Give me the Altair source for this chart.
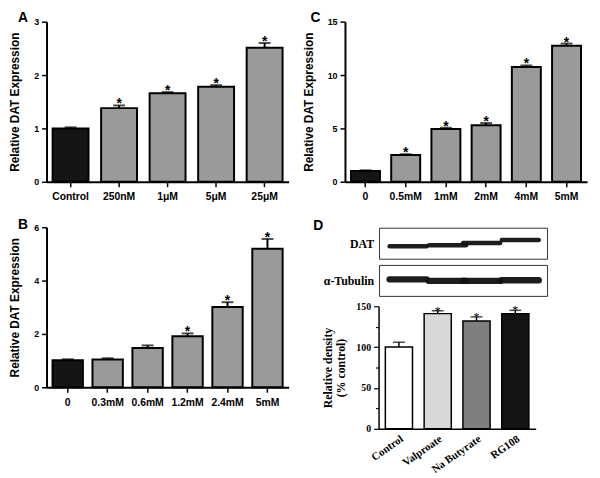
import altair as alt
import pandas as pd

# ---------------- data ----------------
A_labels = ["Control", "250nM", "1μM", "5μM", "25μM"]
A_mean = [1.00, 1.38, 1.66, 1.78, 2.51]
A_err = [0.02, 0.05, 0.02, 0.03, 0.09]
A_sig = [False, True, True, True, True]

B_labels = ["0", "0.3mM", "0.6mM", "1.2mM", "2.4mM", "5mM"]
B_mean = [1.01, 1.04, 1.47, 1.91, 3.01, 5.19]
B_err = [0.04, 0.05, 0.10, 0.11, 0.18, 0.37]
B_sig = [False, False, False, True, True, True]

C_labels = ["0", "0.5mM", "1mM", "2mM", "4mM", "5mM"]
C_mean = [1.02, 2.50, 4.94, 5.30, 10.75, 12.75]
C_err = [0.05, 0.08, 0.12, 0.20, 0.15, 0.20]
C_sig = [False, True, True, True, True, True]

D_labels = ["Control", "Valproate", "Na Butyrate", "RG108"]
D_mean = [100, 141, 132, 141]
D_err = [6, 3.5, 5, 4]
D_sig = [False, True, True, True]

blot_rows = ["DAT", "α-Tubulin"]
blot_lanes = [0.68, 1.62, 2.43, 3.35]
dat_band = [0.42, 0.45, 0.52, 0.62]
tub_band = [0.55, 0.50, 0.50, 0.52]

SANS = "Liberation Sans"
SERIF = "Liberation Serif"
GRAY = "#9a9a9a"
DARK = "#151515"


def frame(labels, mean, err, sig, colors):
    return pd.DataFrame({
        "label": labels,
        "mean": mean,
        "top": [m + e for m, e in zip(mean, err)],
        "star": ["*" if s else "" for s in sig],
        "color": colors,
    })


def letter_mark(letter, dx, dy):
    return alt.Chart(pd.DataFrame({"t": [letter]})).mark_text(
        font=SANS, fontSize=14, fontWeight="bold", align="left",
        baseline="alphabetic", color="black").encode(
        text="t:N", x=alt.value(dx), y=alt.value(dy))


def bar_panel(df, letter, ymax, yvals, width, height, pin, pout, tdx, tdy):
    x = alt.X("label:N", sort=list(df["label"]), title=None,
              scale=alt.Scale(paddingInner=pin, paddingOuter=pout),
              axis=alt.Axis(labelAngle=0, labelFont=SANS, labelFontSize=10.5,
                            labelFontWeight="bold", labelPadding=5,
                            tickSize=5, tickWidth=1.5, domainWidth=2))
    yax = alt.Axis(values=yvals, labelFont=SANS, labelFontSize=9,
                   labelFontWeight="bold", tickSize=5, tickWidth=1.5,
                   domainWidth=2, labelPadding=3,
                   titleFont=SANS, titleFontSize=12, titleFontWeight="bold",
                   titlePadding=12)
    ysc = alt.Scale(domain=[0, ymax], nice=False)
    ttl = "Relative DAT Expression"
    base = alt.Chart(df).encode(x=x)
    bars = base.mark_bar(stroke="black", strokeWidth=2).encode(
        y=alt.Y("mean:Q", scale=ysc, axis=yax, title=ttl),
        color=alt.Color("color:N", scale=None))
    rule = base.mark_rule(color="black", strokeWidth=2).encode(
        y=alt.Y("mean:Q", scale=ysc, axis=yax, title=ttl), y2="top:Q")
    cap = base.mark_tick(color="black", thickness=2, size=12,
                         orient="horizontal").encode(
        y=alt.Y("top:Q", scale=ysc, axis=yax, title=ttl))
    star = base.mark_text(font=SANS, fontSize=14, fontWeight="bold",
                          baseline="alphabetic", dy=3).encode(
        y=alt.Y("top:Q", scale=ysc, axis=yax, title=ttl), text="star:N")
    return alt.layer(bars, rule, cap, star,
                     letter_mark(letter, tdx, tdy)).properties(
        width=width, height=height)


dfA = frame(A_labels, A_mean, A_err, A_sig, [DARK] + [GRAY] * 4)
dfB = frame(B_labels, B_mean, B_err, B_sig, [DARK] + [GRAY] * 5)
dfC = frame(C_labels, C_mean, C_err, C_sig, [DARK] + [GRAY] * 5)
dfD = frame(D_labels, D_mean, D_err, D_sig,
            ["#ffffff", "#d8d8d8", "#7f7f7f", "#141414"])

panelA = bar_panel(dfA, "A", 3, [0, 1, 2, 3], 245, 162, 0.26, 0.125, -29, 0)
panelB = bar_panel(dfB, "B", 6, [0, 2, 4, 6], 245, 162, 0.24, 0.15, -29, 2)
panelC = bar_panel(dfC, "C", 15, [0, 5, 10, 15], 245, 162, 0.28, 0.15, -35, 0)

# ---------------- panel D: blot + bars in one view ----------------
bx = alt.Scale(domain=[0, 4], range=[35, 205])
by = alt.Scale(domain=[0, 2.2], range=[70, 1])

boxes = pd.DataFrame({"row": blot_rows, "lo": [1.2, 0.0], "hi": [2.2, 1.0],
                      "x0": [0, 0], "x1": [4, 4]})
bands = pd.DataFrame({
    "lane": blot_lanes * 2,
    "pos": [1.2 + v for v in dat_band] + tub_band,
    "row": ["DAT"] * 4 + ["α-Tubulin"] * 4,
})
bands["a"] = bands["lane"] - 0.44
bands["b"] = bands["lane"] + 0.44
rowlab = pd.DataFrame({"row": blot_rows, "mid": [1.7, 0.5], "xl": [-0.13, -0.13]})

box_l = alt.Chart(boxes).mark_rect(fill="white", stroke="#333333",
                                   strokeWidth=1).encode(
    x=alt.X("x0:Q", scale=bx, axis=None), x2="x1:Q",
    y=alt.Y("lo:Q", scale=by, axis=None), y2="hi:Q")
band_l = alt.Chart(bands).mark_rule(color="#111111", strokeCap="round",
                                    opacity=0.95).encode(
    x=alt.X("a:Q", scale=bx, axis=None), x2="b:Q",
    y=alt.Y("pos:Q", scale=by, axis=None),
    strokeWidth=alt.StrokeWidth("row:N", scale=alt.Scale(
        domain=blot_rows, range=[4.5, 6.5]), legend=None))
lab_l = alt.Chart(rowlab).mark_text(font=SERIF, fontSize=12, fontWeight="bold",
                                    align="right", baseline="middle",
                                    color="black").encode(
    x=alt.X("xl:Q", scale=bx, axis=None),
    y=alt.Y("mid:Q", scale=by, axis=None), text="row:N")
blot_layer = alt.layer(box_l, band_l, lab_l)

xD = alt.X("label:N", sort=D_labels, title=None,
           scale=alt.Scale(paddingInner=0.3, paddingOuter=0.175,
                           range=[34, 193]),
           axis=alt.Axis(labelAngle=-35, labelFont=SERIF, labelFontSize=11,
                         labelFontWeight="bold", ticks=False, labelPadding=4,
                         domainWidth=1.5))
yDax = alt.Axis(values=[0, 25, 50, 75, 100, 125, 150], offset=-34,
                labelExpr="datum.value % 50 === 0 ? datum.label : ''",
                labelFont=SERIF, labelFontSize=10, labelFontWeight="bold",
                tickSize={"condition": {"test": "datum.value % 50 === 0",
                                        "value": 5}, "value": 3},
                tickWidth=1.2, domainWidth=1.5, labelPadding=3,
                titleFont=SERIF, titleFontSize=12, titleFontWeight="bold",
                titlePadding=8)
yDsc = alt.Scale(domain=[0, 150], nice=False, range=[204, 80])
yDt = ["Relative density", "(% control)"]
baseD = alt.Chart(dfD).encode(x=xD)
barsD = baseD.mark_bar(stroke="black", strokeWidth=1.5).encode(
    y=alt.Y("mean:Q", scale=yDsc, axis=yDax, title=yDt),
    color=alt.Color("color:N", scale=None))
ruleD = baseD.mark_rule(color="black", strokeWidth=1.5).encode(
    y=alt.Y("mean:Q", scale=yDsc, axis=yDax, title=yDt), y2="top:Q")
capD = baseD.mark_tick(color="black", thickness=1.5, size=12,
                       orient="horizontal").encode(
    y=alt.Y("top:Q", scale=yDsc, axis=yDax, title=yDt))
starD = baseD.mark_text(font=SERIF, fontSize=12, baseline="alphabetic",
                        dy=4).encode(
    y=alt.Y("top:Q", scale=yDsc, axis=yDax, title=yDt), text="star:N")
bars_layer = alt.layer(barsD, ruleD, capD, starD)

panelD = alt.layer(blot_layer, bars_layer, letter_mark("D", -32, 3)).resolve_scale(
    x="independent", y="independent").properties(width=205, height=204)

chart = alt.concat(panelA, panelC, panelB, panelD, columns=2,
                   spacing={"row": 46, "column": 57}, bounds="flush",
                   align="each").properties(
    padding={"left": 0, "top": 0, "right": 5, "bottom": 5},
    background="white",
).configure_view(stroke=None).configure_axis(
    grid=False, domainColor="black", tickColor="black", labelColor="black",
    titleColor="black")

chart.save("out.html", embed_options={"renderer": "svg", "actions": False})
